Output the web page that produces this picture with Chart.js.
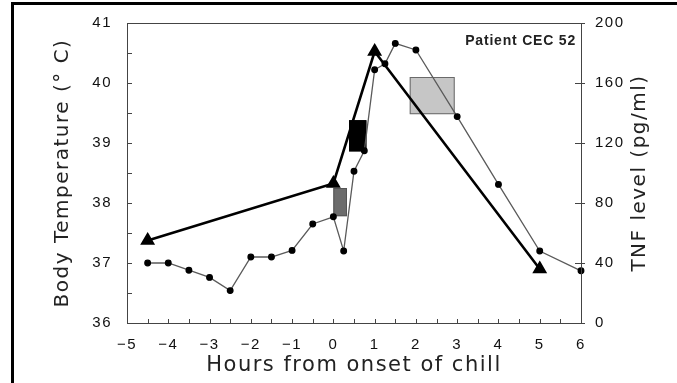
<!DOCTYPE html>
<html>
<head>
<meta charset="utf-8">
<script src="https://cdn.jsdelivr.net/npm/chart.js@4"></script>
<style>
  html, body { margin: 0; padding: 0; background: #fff; }
  #wrap { position: relative; width: 677px; height: 383px; }
  #frame { position: absolute; left: 11px; top: 2px; right: 0; bottom: 0;
           border-left: 3px solid #000; border-top: 3px solid #000; pointer-events: none; }
</style>
</head>
<body>
<div id="wrap">
  <canvas id="chart" width="677" height="383"></canvas>
  <div id="frame"></div>
</div>
<script>
// --- Data ---
const tempHours = [-4.5, -4, -3.5, -3, -2.5, -2, -1.5, -1, -0.5, 0, 0.25, 0.5, 0.75, 1, 1.25, 1.5, 2, 3, 4, 5, 6];
const bodyTemp  = [37.0, 37.0, 36.88, 36.76, 36.54, 37.1, 37.1, 37.21, 37.65, 37.77, 37.2, 38.53, 38.87, 40.22, 40.32, 40.66, 40.55, 39.44, 38.31, 37.2, 36.87];

const tnfHours = [-4.5, 0, 1, 5];
const tnfLevel = [55, 93, 181, 36];

// shaded boxes (hours / body temperature)
const boxStart = [0, 0.38, 1.85];
const boxEnd   = [0.33, 0.8, 2.94];
const boxLow   = [37.78, 38.86, 39.48];
const boxHigh  = [38.25, 39.38, 40.1];
const BOX_FILL   = ['#6c6c6c', '#000000', '#c6c6c6'];
const BOX_STROKE = ['#555555', '#000000', '#6a6a6a'];

const xTicks = [-5, -4, -3, -2, -1, 0, 1, 2, 3, 4, 5, 6];
const tempTicks = [36, 37, 38, 39, 40, 41];
const tnfTicks = [0, 40, 80, 120, 160, 200];

const patientLabel = 'Patient CEC 52';
const xTitle = 'Hours from onset of chill';
const yTitle = 'Body Temperature (\u00B0 C)';
const y2Title = 'TNF level (pg/ml)';

const tickFont = { family: '"Liberation Sans", Arial, sans-serif', size: 15 };
const titleFont = { family: '"DejaVu Sans", sans-serif', size: 20 };

// --- Plugins ---
const spacing = {
  id: 'spacing',
  beforeDraw(chart) { chart.ctx.letterSpacing = '1.5px'; }
};

const boxes = {
  id: 'boxes',
  beforeDatasetsDraw(chart) {
    const { ctx, scales: { x, y } } = chart;
    ctx.save();
    boxStart.forEach((s, i) => {
      const x0 = x.getPixelForValue(s), x1 = x.getPixelForValue(boxEnd[i]);
      const y0 = y.getPixelForValue(boxHigh[i]), y1 = y.getPixelForValue(boxLow[i]);
      ctx.fillStyle = BOX_FILL[i];
      ctx.fillRect(x0, y0, x1 - x0, y1 - y0);
      ctx.strokeStyle = BOX_STROKE[i];
      ctx.lineWidth = 1;
      ctx.strokeRect(x0 + 0.5, y0 + 0.5, x1 - x0 - 1, y1 - y0 - 1);
    });
    ctx.restore();
  }
};

const axesFrame = {
  id: 'axesFrame',
  afterDatasetsDraw(chart) {
    const { ctx, chartArea: a, scales: { x, y, y2 } } = chart;
    ctx.save();
    ctx.strokeStyle = '#444';
    ctx.lineWidth = 1;
    ctx.strokeRect(Math.round(a.left) + 0.5, Math.round(a.top) + 0.5,
                   Math.round(a.right - a.left), Math.round(a.bottom - a.top));
    ctx.beginPath();
    // x ticks every half hour, pointing in
    for (let v = x.min; v <= x.max; v += 0.5) {
      const px = Math.round(x.getPixelForValue(v)) + 0.5;
      ctx.moveTo(px, a.bottom); ctx.lineTo(px, a.bottom - 4);
    }
    // left ticks every half degree
    for (let v = y.min; v <= y.max; v += 0.5) {
      const py = Math.round(y.getPixelForValue(v)) + 0.5;
      ctx.moveTo(a.left, py); ctx.lineTo(a.left + 5, py);
    }
    // right ticks crossing the axis
    tnfTicks.forEach(v => {
      const py = Math.round(y2.getPixelForValue(v)) + 0.5;
      ctx.moveTo(a.right - 6, py); ctx.lineTo(a.right + 4, py);
    });
    ctx.stroke();

    // patient label
    ctx.letterSpacing = '0.8px';
    ctx.fillStyle = '#222';
    ctx.font = 'bold 14px "Liberation Sans", Arial, sans-serif';
    ctx.textAlign = 'right';
    ctx.textBaseline = 'alphabetic';
    ctx.fillText(patientLabel, a.right - 5, 45);

    // right axis title, reading bottom to top
    ctx.letterSpacing = '1.5px';
    ctx.fillStyle = '#222';
    ctx.font = '20px "DejaVu Sans", sans-serif';
    ctx.textAlign = 'center';
    ctx.textBaseline = 'middle';
    ctx.translate(640, (a.top + a.bottom) / 2);
    ctx.rotate(-Math.PI / 2);
    ctx.fillText(y2Title, 0, 0);
    ctx.restore();
  }
};

// --- Chart ---
new Chart(document.getElementById('chart'), {
  type: 'scatter',
  data: {
    datasets: [
      {
        label: 'TNF',
        data: tnfHours.map((h, i) => ({ x: h, y: tnfLevel[i] })),
        yAxisID: 'y2',
        showLine: true,
        borderColor: '#000',
        borderWidth: 2.6,
        pointStyle: 'triangle',
        pointRadius: 6,
        pointBackgroundColor: '#000',
        pointBorderColor: '#000',
        clip: false
      },
      {
        label: 'Body temperature',
        data: tempHours.map((h, i) => ({ x: h, y: bodyTemp[i] })),
        yAxisID: 'y',
        showLine: true,
        borderColor: '#5a5a5a',
        borderWidth: 1.3,
        pointStyle: 'circle',
        pointRadius: 2.8,
        pointBackgroundColor: '#000',
        pointBorderColor: '#000',
        clip: false
      }
    ]
  },
  options: {
    responsive: false,
    animation: false,
    devicePixelRatio: 1,
    layout: { padding: { top: 23, left: 0, right: 0, bottom: 0 } },
    plugins: { legend: { display: false }, tooltip: { enabled: false } },
    scales: {
      x: {
        type: 'linear', position: 'bottom', min: -5, max: 6,
        afterBuildTicks: s => { s.ticks = xTicks.map(v => ({ value: v })); },
        afterFit: s => { s.height = 60; },
        grid: { display: false }, border: { display: false },
        ticks: { font: tickFont, color: '#111', padding: 5,
                 callback: v => String(v).replace('-', '\u2212') },
        title: { display: true, text: xTitle, color: '#222',
                 font: { family: titleFont.family, size: 21 }, padding: { top: 0, bottom: 5 } }
      },
      y: {
        type: 'linear', position: 'left', min: 36, max: 41,
        afterBuildTicks: s => { s.ticks = tempTicks.map(v => ({ value: v })); },
        afterFit: s => { s.width = 127; },
        grid: { display: false }, border: { display: false },
        ticks: { font: tickFont, color: '#111', padding: 7 },
        title: { display: true, text: yTitle, color: '#222', font: titleFont,
                 padding: { top: 51, bottom: 0 } }
      },
      y2: {
        type: 'linear', position: 'right', min: 0, max: 200,
        afterBuildTicks: s => { s.ticks = tnfTicks.map(v => ({ value: v })); },
        afterFit: s => { s.width = 96; },
        grid: { display: false }, border: { display: false },
        ticks: { font: tickFont, color: '#111', padding: 6 }
      }
    }
  },
  plugins: [spacing, boxes, axesFrame]
});
</script>
</body>
</html>
